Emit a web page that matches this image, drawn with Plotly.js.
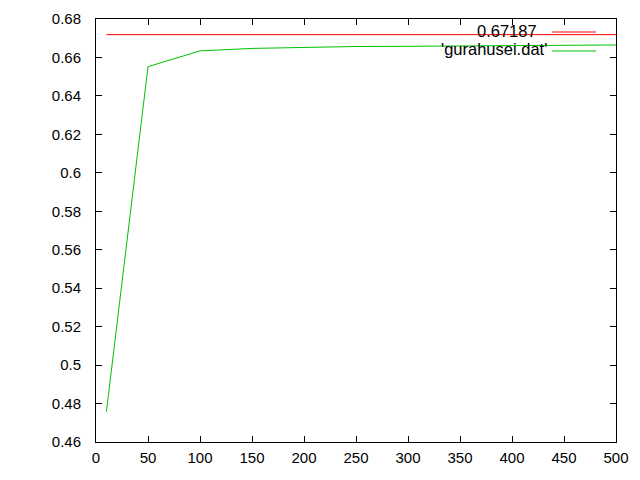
<!DOCTYPE html>
<html>
<head>
<meta charset="utf-8">
<script src="https://cdn.plot.ly/plotly-3.0.1.min.js"></script>
<style>html,body{margin:0;padding:0;background:#fff}#chart{width:640px;height:480px}</style>
</head>
<body>
<div id="chart"></div>
<script>
// Data
var constLabel = "0.67187";
var constValue = 0.67187;
var constX = [10, 500];
var dataLabel = "'gurahusei.dat'";
var dataX = [10, 50, 100, 150, 200, 250, 300, 350, 400, 450, 500];
var dataY = [0.4757, 0.6552, 0.6634, 0.6647, 0.6652, 0.6657, 0.6658, 0.6659, 0.6660, 0.6661, 0.6665];
var xTicks = [0, 50, 100, 150, 200, 250, 300, 350, 400, 450, 500];
var yTicks = [0.46, 0.48, 0.5, 0.52, 0.54, 0.56, 0.58, 0.6, 0.62, 0.64, 0.66, 0.68];

var RED = "#ff0000", GREEN = "#00c000";
var font = {family: "Liberation Sans, Arial, sans-serif", size: 15, color: "#000"};
var keyFont = {family: "Liberation Sans, Arial, sans-serif", size: 16.5, color: "#000"};

var traces = [
  {x: constX, y: constX.map(function(){return constValue;}), mode: "lines", name: constLabel,
   line: {color: RED, width: 1}, hoverinfo: "skip"},
  {x: dataX, y: dataY, mode: "lines", name: dataLabel,
   line: {color: GREEN, width: 1}, hoverinfo: "skip"}
];

var axisCommon = {showgrid: false, zeroline: false, showline: true, mirror: "ticks",
  linecolor: "#000", linewidth: 1, ticks: "inside", ticklen: 6, tickcolor: "#000",
  tickfont: font};

var layout = {
  width: 640, height: 480,
  margin: {l: 96, r: 24, t: 19, b: 38},
  paper_bgcolor: "#fff", plot_bgcolor: "#fff",
  showlegend: false,
  font: font,
  xaxis: Object.assign({}, axisCommon, {range: [0, 500], tickvals: xTicks,
    ticktext: xTicks.map(String), ticklabelstandoff: 2}),
  yaxis: Object.assign({}, axisCommon, {range: [0.46, 0.68], tickvals: yTicks,
    ticktext: yTicks.map(function(v){return String(+v.toFixed(2));}), ticklabelstandoff: 11}),
  annotations: [
    {xref: "paper", yref: "paper", x: (539 - 96) / 520, y: 1 - (31 - 19) / 423,
     xanchor: "right", yanchor: "middle", text: constLabel, showarrow: false, font: keyFont},
    {xref: "paper", yref: "paper", x: (549 - 96) / 520, y: 1 - (49 - 19) / 423,
     xanchor: "right", yanchor: "middle", text: dataLabel, showarrow: false, font: keyFont}
  ],
  shapes: [
    {type: "line", xref: "paper", yref: "paper", x0: (552 - 96) / 520, x1: (596 - 96) / 520,
     y0: 1 - (32 - 19) / 423, y1: 1 - (32 - 19) / 423, line: {color: RED, width: 1}},
    {type: "line", xref: "paper", yref: "paper", x0: (552 - 96) / 520, x1: (596 - 96) / 520,
     y0: 1 - (51 - 19) / 423, y1: 1 - (51 - 19) / 423, line: {color: GREEN, width: 1}}
  ]
};

Plotly.newPlot("chart", traces, layout, {displayModeBar: false, staticPlot: true});
</script>
</body>
</html>
